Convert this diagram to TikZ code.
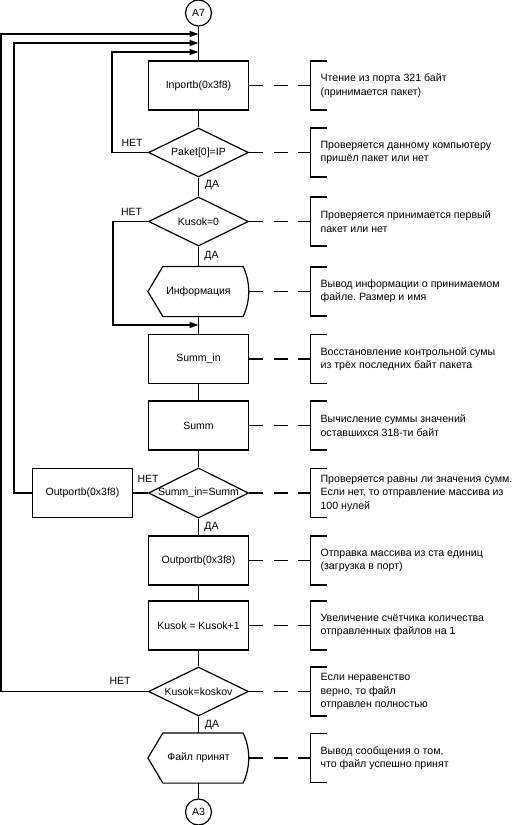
\documentclass[tikz,border=0pt]{standalone}
\usepackage{fontspec}
\setmainfont{Liberation Sans}
\usetikzlibrary{shapes.geometric,arrows.meta,calc}
\frenchspacing
\newcommand\cmtnote[4]{%
  \coordinate (b#2) at (310.5,#3);
  \draw[dsh] (#1.east) -- (b#2);
  \draw (b#2) ++(16.5,-24.5) -- ++(-16.5,0) -- ++(0,49) -- ++(16.5,0);
  \node[cmt] (c#2) at (320,#3) {#4};}
\newcommand\dispoutline[1]{%
  \draw (#1.west) -- ([xshift=15pt]#1.north west) -- ([xshift=-6pt]#1.north east)
    .. controls ([xshift=1.5pt]$(#1.north east)!0.31!(#1.south east)$)
       and ([xshift=1.5pt]$(#1.north east)!0.69!(#1.south east)$) .. ([xshift=-6pt]#1.south east)
    -- ([xshift=15pt]#1.south west) -- cycle;}
\begin{document}
\frenchspacing
\begin{tikzpicture}[x=1pt,y=-1pt,line width=1.2pt,
  every node/.style={font=\fontsize{10.5}{13.5}\selectfont},
  box/.style={draw,rectangle,minimum width=100pt,minimum height=49pt,inner sep=0pt},
  dec/.style={draw,diamond,aspect=2,minimum width=100pt,minimum height=49pt,inner sep=0pt},
  disp/.style={rectangle,minimum width=100pt,minimum height=49pt,inner sep=0pt},
  conn/.style={draw,circle,minimum size=26pt,inner sep=0pt},
  lbl/.style={inner sep=0pt},
  cmt/.style={anchor=west,align=left,inner sep=0pt,font=\fontsize{10.6}{13.5}\selectfont\frenchspacing},
  dsh/.style={dash pattern=on 14pt off 10.5pt},
  arr/.style={-{Triangle[length=9pt,width=6pt]}}]
\useasboundingbox (0,0) rectangle (512,825);

\node[conn] (a7) at (198.5,13) {A7};
\node[box] (inp) at (198.5,85.5) {Inportb(0x3f8)};
\node[dec] (pak) at (198.5,152.5) {Paket[0]=IP};
\node[dec] (k0) at (198.5,221.5) {Kusok=0};
\node[disp] (info) at (198.5,291.5) {Информация};
\node[box] (sin) at (198.5,359) {Summ\_in};
\node[box] (sum) at (198.5,425.5) {Summ};
\node[dec] (cmp) at (198.5,493) {Summ\_in=Summ};
\node[box] (outl) at (82.5,493) {Outportb(0x3f8)};
\node[box] (out) at (198.5,560.5) {Outportb(0x3f8)};
\node[box] (inc) at (198.5,625.5) {Kusok = Kusok+1};
\node[dec] (kk) at (198.5,691.5) {Kusok=koskov};
\node[disp] (fin) at (198.5,758) {Файл принят};
\node[conn] (a3) at (198.5,812) {A3};

\dispoutline{info}
\dispoutline{fin}

\coordinate (j1) at (198.5,34);
\coordinate (j2) at (198.5,43);
\coordinate (j3) at (198.5,52);
\coordinate (j4) at (198.5,325);

% main axis
\draw (a7) -- (inp);
\draw (inp) -- (pak);
\draw (pak) -- (k0);
\draw (k0) -- (info.north);
\draw (info.south) -- (sin);
\draw (sin) -- (sum);
\draw (sum) -- (cmp);
\draw (cmp) -- (out);
\draw (out) -- (inc);
\draw (inc) -- (kk);
\draw (kk) -- (fin.north);
\draw (fin.south) -- (a3);

% loops
\draw[arr] (pak.west) -- ++(-36,0) |- (j3);
\draw[arr] (k0.west) -- ++(-35,0) |- (j4);
\draw (cmp.west) -- (outl.east);
\draw[arr] (outl.west) -- ++(-18,0) |- (j2);
\draw[arr] (kk.west) -- ++(-147,0) |- (j1);

% labels
\node[lbl] (n1) at (132,143) {НЕТ};
\node[lbl] (d1) at (212,185) {ДА};
\node[lbl] (n2) at (131.5,212) {НЕТ};
\node[lbl] (d2) at (211.5,256) {ДА};
\node[lbl] (n3) at (148,479) {НЕТ};
\node[lbl] (d3) at (211.5,527) {ДА};
\node[lbl] (n4) at (120,681) {НЕТ};
\node[lbl] (d4) at (212,725) {ДА};

% comments
\cmtnote{inp}{1}{85.5}{Чтение из порта 321 байт\\(принимается пакет)}
\cmtnote{pak}{2}{152.5}{Проверяется данному компьютеру\\пришёл пакет или нет}
\cmtnote{k0}{3}{221.5}{Проверяется принимается первый\\пакет или нет}
\cmtnote{info}{4}{291.5}{Вывод информации о принимаемом\\файле. Размер и имя}
\cmtnote{sin}{5}{359}{Восстановление контрольной сумы\\из трёх последних байт пакета}
\cmtnote{sum}{6}{425.5}{Вычисление суммы значений\\оставшихся 318-ти байт}
\cmtnote{cmp}{7}{493}{Проверяется равны ли значения сумм.\\Если нет, то отправление массива из\\100 нулей}
\cmtnote{out}{8}{560.5}{Отправка массива из ста единиц\\(загрузка в порт)}
\cmtnote{inc}{9}{625.5}{Увеличение счётчика количества\\отправленных файлов на 1}
\cmtnote{kk}{10}{691.5}{Если неравенство\\верно, то файл\\отправлен полностью}
\cmtnote{fin}{11}{758}{Вывод сообщения о том,\\что файл успешно принят}
\end{tikzpicture}
\end{document}
